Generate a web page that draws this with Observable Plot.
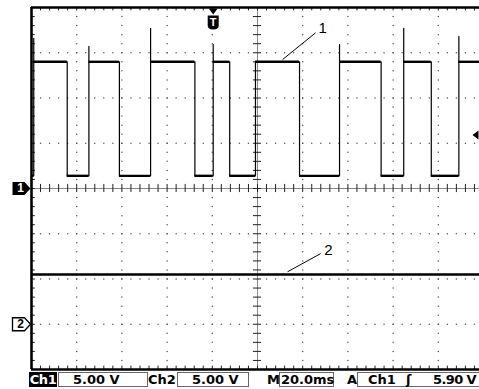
<!DOCTYPE html>
<html>
<head>
<meta charset="utf-8">
<script src="https://cdn.jsdelivr.net/npm/d3@7"></script>
<script src="https://cdn.jsdelivr.net/npm/@observablehq/plot@0.6"></script>
<style>
  html, body { margin: 0; padding: 0; background: #fff; }
  #wrap { position: relative; width: 479px; height: 389px; overflow: hidden; background: #fff; }
  #status { position: absolute; left: 0; top: 371px; width: 479px; height: 18px;
            font: bold 13px "DejaVu Sans", sans-serif; color: #000; }
  #status div { position: absolute; top: 1px; height: 15px; line-height: 15px; box-sizing: border-box; white-space: nowrap; }
  .box { border: 1px solid #666; }
</style>
</head>
<body>
<div id="wrap">
  <div id="chart"></div>
  <div id="status"></div>
</div>
<script>
// ---- Scope settings ----
const timePerDiv = 20;            // ms/div  ("M 20.0ms")
const divisionsX = 10;
const divisionsY = 8;
const ch1VoltsPerDiv = 5;         // "Ch1 5.00 V"
const ch2VoltsPerDiv = 5;         // "Ch2 5.00 V"
const ch1Ground = 0;              // divisions from centre
const ch2Ground = -3;             // divisions from centre
const triggerLevel = 5.9;         // V on Ch1
const triggerTime = 80.4;         // ms (T marker)

// ---- Channel 1: square wave (edge times in ms, alternating rise / fall) ----
const ch1EdgeTimes = [1.0, 15.8, 25.4, 38.9, 52.7, 72.3, 80.4, 87.7, 99.1, 118.6, 136.3, 154.7, 164.7, 176.9, 189.1];
const ch1RiseOvershoot = [16.6, 15.7, 17.7, 15.9, 14.0, 15.9, 17.7, 16.8]; // V peak at each rising edge
const ch1High = 14.0;  // V
const ch1Low = 1.4;    // V

// ---- Channel 2: flat trace ----
const ch2Times = [0, 200];
const ch2Values = [5.5, 5.5];

// ---- Annotations ----
const labelTexts = ["1", "2"];
const labelChannels = [1, 2];
const labelTimes = [128.8, 131.4];
const labelVolts = [17.7, 8.15];
const leaderStartTimes = [125.7, 127.9];
const leaderStartVolts = [17.2, 7.8];
const leaderEndTimes = [111.1, 113.3];
const leaderEndVolts = [14.25, 5.8];

// ---- Status bar ----
const statusBoxes = [
  {left: 58, width: 90},
  {left: 177, width: 72},
  {left: 279, width: 55},
  {left: 357, width: 140}
];
const statusTexts = [
  {text: "Ch1", left: 29, width: 28, inv: true},
  {text: "5.00 V", left: 73},
  {text: "Ch2", left: 148},
  {text: "5.00 V", left: 192},
  {text: "M", left: 267},
  {text: "20.0ms", left: 281},
  {text: "A", left: 347},
  {text: "Ch1", left: 368},
  {text: "\u0283", left: 406},
  {text: "5.90 V", left: 433, tight: true}
];

// ---- Derived ----
const tMax = timePerDiv * divisionsX;
const y1 = v => ch1Ground + v / ch1VoltsPerDiv;
const y2 = v => ch2Ground + v / ch2VoltsPerDiv;
const yCh = (ch, v) => ch === 1 ? y1(v) : y2(v);

const ch1Points = [{t: 0, v: ch1Low}];
const ch1Flats = [];
let prevT = 0, level = ch1Low, rise = 0;
ch1EdgeTimes.forEach((t, i) => {
  ch1Flats.push({t1: prevT, t2: t, v: level});
  if (i % 2 === 0) {
    ch1Points.push({t, v: ch1Low}, {t, v: ch1RiseOvershoot[rise++]}, {t, v: ch1High});
    level = ch1High;
  } else {
    ch1Points.push({t, v: ch1High}, {t, v: ch1Low});
    level = ch1Low;
  }
  prevT = t;
});
ch1Flats.push({t1: prevT, t2: tMax, v: level});
ch1Points.push({t: tMax, v: level});

const ch2Points = ch2Times.map((t, i) => ({t, v: ch2Values[i]}));

const minorX = d3.range(0, tMax + 0.01, timePerDiv / 5);
const minorY = d3.range(-divisionsY / 2, divisionsY / 2 + 0.01, 0.2);
const majorX = d3.range(timePerDiv, tMax, timePerDiv).filter(x => Math.abs(x - tMax / 2) > 1e-6);
const majorY = d3.range(-divisionsY / 2 + 1, divisionsY / 2).filter(y => y !== 0);
const gridDots = [];
majorX.forEach(x => minorY.forEach(y => gridDots.push({x, y})));
majorY.forEach(y => minorX.forEach(x => gridDots.push({x, y})));

const labels = labelTexts.map((s, i) => ({
  s, t: labelTimes[i], y: yCh(labelChannels[i], labelVolts[i]),
  ax: leaderStartTimes[i], ay: yCh(labelChannels[i], leaderStartVolts[i]),
  bx: leaderEndTimes[i], by: yCh(labelChannels[i], leaderEndVolts[i])
}));

// symbols
const triDown = {draw(c) { c.moveTo(-4.5, -3); c.lineTo(4.5, -3); c.lineTo(0, 3); c.closePath(); }};
const tBox = {draw(c) { c.moveTo(-5.5, -7); c.lineTo(5.5, -7); c.lineTo(5.5, 3); c.quadraticCurveTo(5.5, 7, 0, 7); c.quadraticCurveTo(-5.5, 7, -5.5, 3); c.closePath(); }};
const pent = {draw(c) { c.moveTo(-18, -6.5); c.lineTo(-6, -6.5); c.lineTo(0, 0); c.lineTo(-6, 6.5); c.lineTo(-18, 6.5); c.closePath(); }};
const arrowLeft = {draw(c) { c.moveTo(-3, 0); c.lineTo(3, -4.5); c.lineTo(3, 4.5); c.closePath(); }};

const chart = Plot.plot({
  width: 479,
  height: 371,
  marginLeft: 31,
  marginRight: -4,
  marginTop: 7,
  marginBottom: 2,
  style: {fontFamily: "'Liberation Sans', Arial, sans-serif", background: "#fff", overflow: "hidden"},
  x: {domain: [0, tMax], axis: null},
  y: {domain: [-divisionsY / 2, divisionsY / 2], axis: null},
  marks: [
    // dotted graticule
    Plot.dot(gridDots, {x: "x", y: "y", r: 0.75, fill: "#555", stroke: null}),
    // centre lines with ticks
    Plot.ruleX([tMax / 2], {stroke: "#888", strokeWidth: 1}),
    Plot.ruleY([0], {stroke: "#888", strokeWidth: 1}),
    Plot.ruleY(minorY, {y: d => d, x1: tMax / 2 - 1.8, x2: tMax / 2 + 1.8, stroke: "#222"}),
    Plot.ruleX(minorX, {x: d => d, y1: -0.09, y2: 0.09, stroke: "#222"}),
    // border ticks
    Plot.ruleX(minorX, {x: d => d, y1: divisionsY / 2, y2: divisionsY / 2 - 0.075, stroke: "#222"}),
    Plot.ruleX(minorX, {x: d => d, y1: -divisionsY / 2, y2: -divisionsY / 2 + 0.075, stroke: "#222"}),
    Plot.ruleY(minorY, {y: d => d, x1: 0, x2: 1.7, stroke: "#222"}),
    // border
    Plot.ruleY([divisionsY / 2, -divisionsY / 2], {stroke: "#000", strokeWidth: 2.6}),
    Plot.ruleX([0], {stroke: "#000", strokeWidth: 2.6}),
    // channel 2
    Plot.ruleY(ch2Points.slice(1), {y: d => y2(d.v), x1: 0, x2: tMax, stroke: "#000", strokeWidth: 2.4}),
    Plot.line(ch2Points, {x: "t", y: d => y2(d.v), stroke: "#000", strokeWidth: 1.2}),
    // channel 1
    Plot.line(ch1Points, {x: "t", y: d => y1(d.v), stroke: "#000", strokeWidth: 1.2}),
    Plot.ruleY(ch1Flats, {y: d => y1(d.v), x1: "t1", x2: "t2", stroke: "#000", strokeWidth: 2.4}),
    // labels with leaders
    Plot.link(labels, {x1: "ax", y1: "ay", x2: "bx", y2: "by", stroke: "#000", strokeWidth: 1}),
    Plot.text(labels, {x: "t", y: "y", text: "s", fontSize: 15, fill: "#000"}),
    // ground markers
    Plot.dot([1], {frameAnchor: "left", y: () => ch1Ground, dx: -1, symbol: pent, fill: "#000", stroke: null}),
    Plot.text([1], {frameAnchor: "left", y: () => ch1Ground, dx: -11, text: () => "1", textAnchor: "middle", fill: "#fff", fontSize: 12, fontWeight: "bold"}),
    Plot.dot([2], {frameAnchor: "left", y: () => ch2Ground, dx: -1, symbol: pent, fill: "#fff", stroke: "#000", strokeWidth: 1.3}),
    Plot.text([2], {frameAnchor: "left", y: () => ch2Ground, dx: -11, text: () => "2", textAnchor: "middle", fill: "#000", fontSize: 12, fontWeight: "bold"}),
    // trigger position marker
    Plot.dot([triggerTime], {x: d => d, frameAnchor: "top", dy: 4, symbol: triDown, fill: "#000", stroke: null}),
    Plot.dot([triggerTime], {x: d => d, frameAnchor: "top", dy: 15, symbol: tBox, fill: "#000", stroke: null}),
    Plot.text([triggerTime], {x: d => d, frameAnchor: "top", dy: 14.5, lineAnchor: "middle", textAnchor: "middle", text: () => "T", fill: "#fff", fontSize: 11, fontWeight: "bold"}),
    // trigger level marker
    Plot.dot([triggerLevel], {y: d => y1(d), frameAnchor: "right", dx: -8, symbol: arrowLeft, fill: "#000", stroke: null})
  ]
});
document.getElementById("chart").appendChild(chart);

const status = document.getElementById("status");
statusBoxes.forEach(b => {
  const d = document.createElement("div");
  d.className = "box";
  d.style.left = b.left + "px";
  d.style.width = b.width + "px";
  status.appendChild(d);
});
statusTexts.forEach(it => {
  const d = document.createElement("div");
  d.textContent = it.text;
  d.style.left = it.left + "px";
  if (it.tight) d.style.letterSpacing = "-0.6px";
  if (it.inv) {
    d.style.width = it.width + "px";
    d.style.background = "#000"; d.style.color = "#fff";
    d.style.textAlign = "center"; d.style.letterSpacing = "-0.4px";
  }
  status.appendChild(d);
});
</script>
</body>
</html>
